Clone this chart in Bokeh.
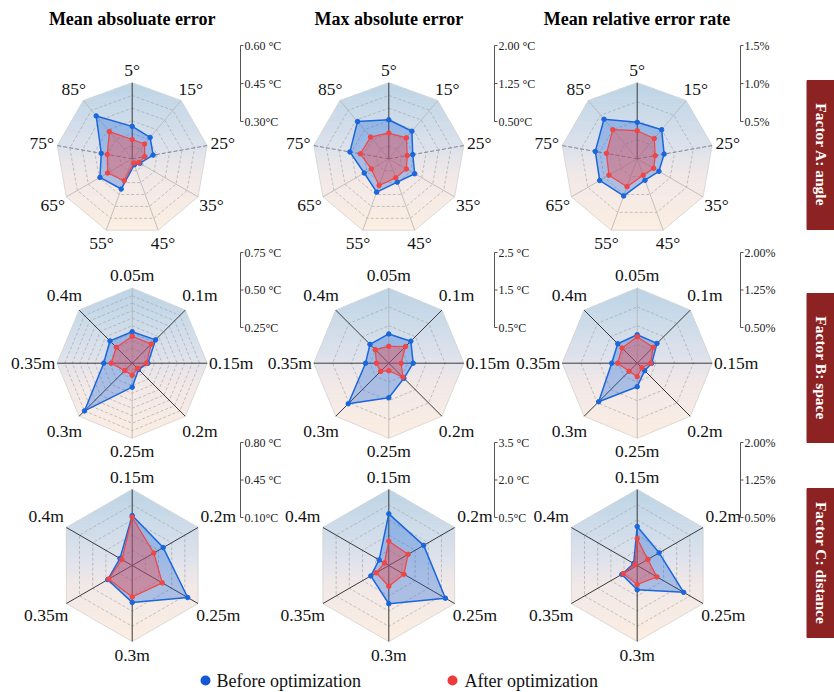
import math
from bokeh.plotting import figure
from bokeh.models import Range1d
from bokeh.embed import file_html
from bokeh.resources import INLINE
from bokeh.core.properties import value

W, H = 834, 692

# ---------------- data ----------------
titles = ["Mean absoluate error", "Max absolute error", "Mean relative error rate"]
factor_labels = ["Factor A: angle", "Factor B: space", "Factor C: distance"]
legend_labels = ["Before optimization", "After optimization"]

angle_cats = ["5°", "15°", "25°", "35°", "45°", "55°", "65°", "75°", "85°"]
space_cats = ["0.05m", "0.1m", "0.15m", "0.2m", "0.25m", "0.3m", "0.35m", "0.4m"]
distance_cats = ["0.15m", "0.2m", "0.25m", "0.3m", "0.35m", "0.4m"]

# Factor A: angle
angle_mae_before = [0.428, 0.410, 0.384, 0.335, 0.325, 0.427, 0.447, 0.424, 0.521]
angle_mae_after = [0.376, 0.376, 0.350, 0.330, 0.318, 0.392, 0.412, 0.400, 0.440]
angle_max_before = [1.27, 1.21, 0.98, 1.09, 0.99, 1.20, 1.06, 1.28, 1.46]
angle_max_after = [1.01, 1.04, 0.87, 0.90, 0.90, 1.06, 0.90, 1.07, 1.06]
angle_rel_before = [0.98, 1.00, 0.86, 0.83, 0.80, 1.02, 1.07, 1.06, 1.18]
angle_rel_after = [0.87, 0.85, 0.74, 0.75, 0.73, 0.89, 0.93, 0.91, 1.00]

# Factor B: space
space_mae_before = [0.46, 0.47, 0.355, 0.31, 0.41, 0.70, 0.44, 0.46]
space_mae_after = [0.43, 0.43, 0.345, 0.30, 0.33, 0.32, 0.39, 0.40]
space_max_before = [1.28, 1.33, 1.15, 1.07, 1.42, 2.03, 1.12, 1.21]
space_max_after = [0.95, 1.13, 0.83, 1.03, 0.70, 0.81, 0.83, 1.01]
space_rel_before = [1.07, 1.06, 0.79, 0.71, 0.97, 1.59, 1.01, 1.05]
space_rel_after = [1.03, 0.95, 0.77, 0.63, 0.77, 0.73, 0.89, 0.93]

# Factor C: distance
dist_mae_before = [0.56, 0.43, 0.69, 0.44, 0.36, 0.23]
dist_mae_after = [0.545, 0.33, 0.42, 0.39, 0.35, 0.21]
dist_max_before = [2.54, 2.09, 3.08, 2.01, 1.32, 0.94]
dist_max_after = [1.46, 1.38, 1.19, 1.32, 1.08, 0.70]
dist_rel_before = [1.27, 1.00, 1.56, 0.98, 0.85, 0.58]
dist_rel_after = [1.03, 0.74, 0.95, 0.875, 0.82, 0.55]

# radial scales (min at centre, max at outer polygon)
angle_scales = [(0.30, 0.60), (0.50, 2.00), (0.5, 1.5)]
space_scales = [(0.25, 0.75), (0.5, 2.5), (0.50, 2.00)]
dist_scales = [(0.10, 0.80), (0.5, 3.5), (0.50, 2.00)]

angle_scale_ticks = [["0.60 °C", "0.45 °C", "0.30°C"], ["2.00 °C", "1.25 °C", "0.50°C"], ["1.5%", "1.0%", "0.5%"]]
space_scale_ticks = [["0.75 °C", "0.50 °C", "0.25°C"], ["2.5 °C", "1.5 °C", "0.5°C"], ["2.00%", "1.25%", "0.50%"]]
dist_scale_ticks = [["0.80 °C", "0.45 °C", "0.10°C"], ["3.5 °C", "2.0 °C", "0.5°C"], ["2.00%", "1.25%", "0.50%"]]

rows = [
    dict(cats=angle_cats, before=[angle_mae_before, angle_max_before, angle_rel_before],
         after=[angle_mae_after, angle_max_after, angle_rel_after], scales=angle_scales, ticks=angle_scale_ticks),
    dict(cats=space_cats, before=[space_mae_before, space_max_before, space_rel_before],
         after=[space_mae_after, space_max_after, space_rel_after], scales=space_scales, ticks=space_scale_ticks),
    dict(cats=distance_cats, before=[dist_mae_before, dist_max_before, dist_rel_before],
         after=[dist_mae_after, dist_max_after, dist_rel_after], scales=dist_scales, ticks=dist_scale_ticks),
]

# ---------------- layout / style ----------------
col_cx = [131.7, 388.3, 636.7]
row_cy = [158.3, 362.7, 565.0]
row_R = [76, 75, 76]
row_label_k = [3, 11, 12]
bar_x = [240, 494, 740]
bar_y = [(45, 121), (252, 327), (442, 517)]
ring_counts = [[6, 6, 4], [10, 4, 4], [5, 5, 5]]
box_y = [(80, 229), (293, 442), (488, 637)]
FONT = value("Liberation Serif")

BLUE = "#1a66db"
RED = "#f04646"

p = figure(width=W, height=H, x_range=Range1d(0, W), y_range=Range1d(0, H),
           output_backend="svg", toolbar_location=None, x_axis_type=None, y_axis_type=None,
           min_border=0, outline_line_color=None, background_fill_color="white",
           border_fill_color="white")
p.grid.visible = False


def Y(yp):
    return H - yp


def lerp(a, b, t):
    return a + (b - a) * t


stops = [(0.0, (188, 212, 230)), (0.45, (221, 226, 236)), (0.62, (241, 232, 232)), (1.0, (252, 238, 226))]


def grad_color(t):
    t = max(0.0, min(1.0, t))
    for (t0, c0), (t1, c1) in zip(stops[:-1], stops[1:]):
        if t <= t1:
            u = (t - t0) / (t1 - t0)
            c = [int(round(lerp(c0[i], c1[i], u))) for i in range(3)]
            return "#%02x%02x%02x" % tuple(c)
    return "#%02x%02x%02x" % stops[-1][1]


def clip_half(pts, keep, yc):
    out = []
    n = len(pts)
    for i in range(n):
        cur = pts[i]
        prev = pts[i - 1]
        if keep(cur):
            if not keep(prev):
                t = (yc - prev[1]) / (cur[1] - prev[1])
                out.append((prev[0] + t * (cur[0] - prev[0]), yc))
            out.append(cur)
        elif keep(prev):
            t = (yc - prev[1]) / (cur[1] - prev[1])
            out.append((prev[0] + t * (cur[0] - prev[0]), yc))
    return out


def clip_band(poly, y0, y1):
    pts = clip_half(poly, lambda q: q[1] >= y0, y0)
    if len(pts) < 3:
        return []
    pts = clip_half(pts, lambda q: q[1] <= y1, y1)
    return pts if len(pts) >= 3 else []


def vertex(cx, cy, r, k, n):
    th = 2 * math.pi * k / n
    return (cx + r * math.sin(th), cy - r * math.cos(th))


band_xs, band_ys, band_cols = [], [], []
ring_xs, ring_ys = [], []
outer_xs, outer_ys = [], []
spokes = {"dark": ([], [], [], []), "dash": ([], [], [], []), "light": ([], [], [], [])}

for ri, row in enumerate(rows):
    n = len(row["cats"])
    R = row_R[ri]
    cy = row_cy[ri]
    for ci in range(3):
        cx = col_cx[ci]
        outer = [vertex(cx, cy, R, k, n) for k in range(n)]
        outer_xs.append([q[0] for q in outer])
        outer_ys.append([Y(q[1]) for q in outer])
        top = min(q[1] for q in outer)
        bot = max(q[1] for q in outer)
        nb = 48
        for b in range(nb):
            y0 = top + (bot - top) * b / nb
            y1 = top + (bot - top) * (b + 1) / nb + 0.4
            pts = clip_band(outer, y0, y1)
            if pts:
                band_xs.append([q[0] for q in pts])
                band_ys.append([Y(q[1]) for q in pts])
                band_cols.append(grad_color((b + 0.5) / nb))
        nr = ring_counts[ri][ci]
        for j in range(1, nr):
            ring = [vertex(cx, cy, R * j / nr, k, n) for k in range(n)]
            ring.append(ring[0])
            ring_xs.append([q[0] for q in ring])
            ring_ys.append([Y(q[1]) for q in ring])
        for k in range(n):
            vx, vy = outer[k]
            if ri == 0:
                kind = "dark" if k == 0 else ("dash" if k in (2, 7) else "light")
            elif ri == 1:
                kind = "light" if k in (0, 4) else "dark"
            else:
                kind = "dark"
            s = spokes[kind]
            s[0].append(cx); s[1].append(Y(cy)); s[2].append(vx); s[3].append(Y(vy))

p.patches(band_xs, band_ys, fill_color=band_cols, line_color=band_cols, line_width=0.6)
p.patches(outer_xs, outer_ys, fill_color=None, line_color="#d4d4d4", line_width=0.8)
p.multi_line(ring_xs, ring_ys, line_color="#9a9a9a", line_width=0.7, line_dash="3 2", line_alpha=0.8)
p.segment(*spokes["light"], line_color="#b5b5b5", line_width=0.8)
p.segment(*spokes["dash"], line_color="#777777", line_width=0.9, line_dash="4 2")
p.segment(*spokes["dark"], line_color="#3a3a3a", line_width=1.0)

# data polygons
for ri, row in enumerate(rows):
    n = len(row["cats"])
    R = row_R[ri]
    cy = row_cy[ri]
    for ci in range(3):
        cx = col_cx[ci]
        lo, hi = row["scales"][ci]
        for series, col, fa, lw in ((row["before"][ci], BLUE, 0.33, 1.5), (row["after"][ci], RED, 0.40, 1.2)):
            pts = [vertex(cx, cy, R * max(0.0, (v - lo) / (hi - lo)), k, n) for k, v in enumerate(series)]
            xs = [q[0] for q in pts]
            ys = [Y(q[1]) for q in pts]
            p.patch(xs, ys, fill_color=col, fill_alpha=fa, line_color=col, line_width=lw)
            p.scatter(xs, ys, size=4.5, fill_color=col, line_color=col)

# category labels
lab_x, lab_y, lab_t = [], [], []
for ri, row in enumerate(rows):
    n = len(row["cats"])
    R = row_R[ri]
    cy = row_cy[ri]
    for ci in range(3):
        cx = col_cx[ci]
        for k, c in enumerate(row["cats"]):
            th = 2 * math.pi * k / n
            rl = R + 13 + row_label_k[ri] * abs(math.sin(th))
            lab_x.append(cx + rl * math.sin(th))
            lab_y.append(Y(cy - rl * math.cos(th)))
            lab_t.append(c)
p.text(lab_x, lab_y, text=lab_t, text_font=FONT, text_font_size="17.5px", text_align="center",
       text_baseline="middle", text_color="#111111")

# scale bars
for ri, row in enumerate(rows):
    y_top, y_bot = bar_y[ri]
    for ci in range(3):
        bx = bar_x[ci]
        p.segment([bx], [Y(y_top)], [bx], [Y(y_bot)], line_color="#555555", line_width=1)
        ty = [y_top, (y_top + y_bot) / 2, y_bot]
        p.segment([bx] * 3, [Y(t) for t in ty], [bx + 3] * 3, [Y(t) for t in ty], line_color="#555555", line_width=1)
        p.text([bx + 4] * 3, [Y(t) for t in ty], text=row["ticks"][ci], text_font=FONT, text_font_size="12px",
               text_align="left", text_baseline="middle", text_color="#222222")

# titles
p.text(col_cx, [Y(18)] * 3, text=titles, text_font=FONT, text_font_size="18px", text_font_style="bold",
       text_align="center", text_baseline="middle", text_color="#000000")

# factor boxes
p.quad(left=[806.5] * 3, right=[834] * 3, top=[Y(b[0]) for b in box_y], bottom=[Y(b[1]) for b in box_y],
       fill_color="#8c2222", line_color="#8c2222")
p.text([820.5] * 3, [Y((b[0] + b[1]) / 2) for b in box_y], text=factor_labels, text_font=FONT,
       text_font_size="15.5px", text_font_style="bold", text_color="white", text_align="center",
       text_baseline="middle", angle=-math.pi / 2)

# legend
p.scatter([205, 452], [Y(680), Y(680)], size=10, fill_color=["#1458d4", "#ee3a3a"], line_color=None)
p.text([216, 464], [Y(680), Y(680)], text=legend_labels, text_font=FONT, text_font_size="18px",
       text_align="left", text_baseline="middle", text_color="#111111")

open("out.html", "w").write(file_html(p, INLINE))
